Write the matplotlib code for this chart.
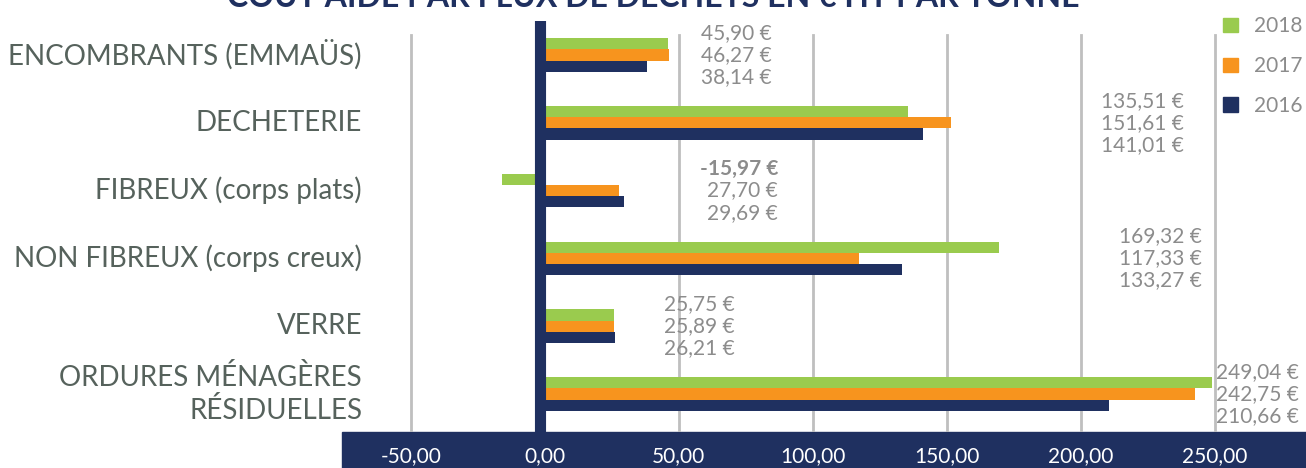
import matplotlib
matplotlib.use('Agg')
import matplotlib.pyplot as plt
from matplotlib.patches import Patch, Rectangle
from matplotlib.transforms import blended_transform_factory

plt.rcParams['font.family'] = ['Lato', 'DejaVu Sans']

categories = ['ENCOMBRANTS (EMMAÜS)', 'DECHETERIE', 'FIBREUX (corps plats)',
              'NON FIBREUX (corps creux)', 'VERRE', 'ORDURES MÉNAGÈRES\nRÉSIDUELLES']
years = ['2018', '2017', '2016']
v2018 = [45.90, 135.51, -15.97, 169.32, 25.75, 249.04]
v2017 = [46.27, 151.61, 27.70, 117.33, 25.89, 242.75]
v2016 = [38.14, 141.01, 29.69, 133.27, 26.21, 210.66]
xticks = [-50, 0, 50, 100, 150, 200, 250]
title = 'COÛT AIDÉ PAR FLUX DE DÉCHETS EN € HT PAR TONNE'

green, orange, navy = '#9acb4e', '#f7941e', '#1f3060'
grey_txt = '#8c8c8c'

W, H = 1306, 468
fig = plt.figure(figsize=(W / 100, H / 100), dpi=100)

# navy band behind the x tick labels
band = Rectangle((342 / W, 0), 1 - 342 / W, 36 / H, transform=fig.transFigure,
                 color=navy, zorder=-5)
fig.patches.append(band)

ax = fig.add_axes([342 / W, 36 / H, 1 - 342 / W, (432 - 21) / H])
ax.patch.set_alpha(0)
ax.set_zorder(1)

bh = 0.165
series = [v2018, v2017, v2016]
colors = [green, orange, navy]
for k, (vals, c) in enumerate(zip(series, colors)):
    ys = [i + (k - 1) * bh for i in range(len(categories))]
    ax.barh(ys, vals, height=bh, color=c, zorder=3)

ax.set_xlim(-75.7, 284)
ax.set_ylim(5.56, -0.5)

# grid lines (no line at 0, replaced by the thick navy axis)
for x in xticks:
    if x != 0:
        ax.axvline(x, ymin=0, ymax=0.966, color='#bfbfbf', lw=2, zorder=1)
ax.axvline(-2, ymin=0, ymax=0.99, color=navy, lw=8, zorder=4)

for s in ax.spines.values():
    s.set_visible(False)
ax.set_yticks([])
ax.set_xticks(xticks)
ax.set_xticklabels(['{:.2f}'.format(x).replace('.', ',') for x in xticks])
ax.tick_params(axis='x', length=0, pad=10, labelsize=15, labelcolor='white')

# category labels
tr = blended_transform_factory(fig.transFigure, ax.transData)
for i, cat in enumerate(categories):
    ax.text(362 / W, i, cat, transform=tr, ha='right', va='center', fontsize=20,
            color='#56625c', linespacing=1.25, clip_on=False)

# value labels
label_x = [84.5, 238.5, 87, 245, 70.7, 281.5]
for i in range(len(categories)):
    for k, vals in enumerate(series):
        txt = '{:.2f} €'.format(vals[i]).replace('.', ',')
        bold = vals[i] < 0
        ax.text(label_x[i], i + (k - 1) * 0.325, txt, ha='right', va='center',
                fontsize=15, color=grey_txt, fontweight='bold' if bold else 'normal',
                zorder=5)

handles = [Patch(color=c) for c in colors]
fig.legend(handles, years, loc='upper right', bbox_to_anchor=(1.012, 1.005), frameon=False,
           fontsize=15, labelcolor=grey_txt, handlelength=0.7, handleheight=0.7,
           labelspacing=0.95, handletextpad=0.8)

fig.text(0.5, 1 - 7 / H, title, ha='center', va='baseline', fontsize=23,
         fontweight='bold', color=navy)

fig.savefig('out.png', dpi=100)
